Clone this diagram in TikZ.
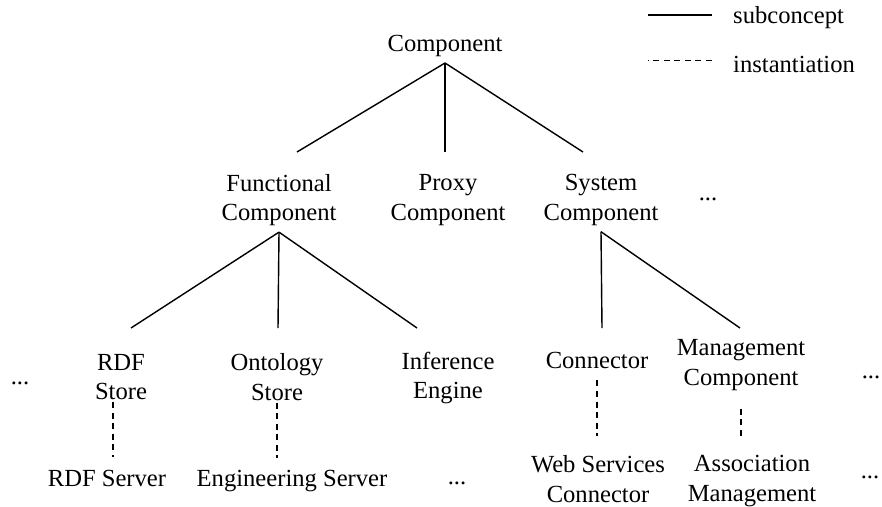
\documentclass[tikz,border=0pt]{standalone}
\usepackage{fontspec}
\setmainfont{Liberation Serif}
\usetikzlibrary{positioning}
\tikzset{
	concept/.style={align=center,font=\fontsize{14}{16.8}\selectfont},
	more/.style={font=\fontsize{14}{16.8}\selectfont},
	sub/.style={line width=0.8pt},
	inst/.style={line width=1.1pt,dash pattern=on 3.4pt off 2.6pt}
}

\begin{document}
\begin{tikzpicture}
	\useasboundingbox (0,0) rectangle (17.64,-10.12);
	% legend
	\node[more,anchor=base west] (lsub) at (14.54,-0.46) {subconcept};
	\node[more,anchor=base west] (linst) at (14.54,-1.44) {instantiation};
	\draw[sub] ([xshift=-0.3cm,yshift=0.04cm]lsub.west) -- ++(-1.28,0);
	\draw[inst] ([xshift=-0.3cm,yshift=0.07cm]linst.west) -- ++(-1.28,0);
	% concepts
	\node[concept] (comp) at (8.9,-0.92) {Component};
	\node[concept] (func) at (5.58,-4.0) {Functional\\Component};
	\node[concept] (proxy) at (8.96,-4.0) {Proxy\\Component};
	\node[concept] (sys) at (12.02,-4.0) {System\\Component};
	\node[more] (dotsmid) at (14.16,-3.98) {...};
	\node[concept] (rdfstore) at (2.42,-7.54) {RDF\\Store};
	\node[concept] (ontstore) at (5.54,-7.54) {Ontology\\Store};
	\node[concept] (infer) at (8.96,-7.56) {Inference\\Engine};
	\node[concept] (conn) at (11.94,-7.2) {Connector};
	\node[concept] (mgmt) at (14.82,-7.3) {Management\\Component};
	\node[more] (dotsl) at (0.4,-7.66) {...};
	\node[more] (dotsr) at (17.42,-7.54) {...};
	% instances
	\node[concept] (rdfsrv) at (2.14,-9.56) {RDF Server};
	\node[concept] (engsrv) at (5.84,-9.61) {Engineering Server};
	\node[more] (dotsb) at (9.14,-9.66) {...};
	\node[concept] (websrv) at (11.96,-9.58) {Web Services\\Connector};
	\node[concept] (assoc) at (15.04,-9.62) {Association\\Management};
	\node[more] (dotsbr) at (17.4,-9.54) {...};
	% line ends
	\node[coordinate] (func-in) at (5.94,-3.04) {};
	\node[coordinate] (proxy-in) at (8.9,-3.04) {};
	\node[coordinate] (sys-in) at (11.66,-3.04) {};
	\node[coordinate] (rdf-in) at (2.62,-6.56) {};
	\node[coordinate] (ont-in) at (5.56,-6.56) {};
	\node[coordinate] (inf-in) at (8.34,-6.56) {};
	\node[coordinate] (conn-in) at (12.04,-6.56) {};
	\node[coordinate] (mgmt-in) at (14.8,-6.56) {};
	% subconcepts
	\draw[sub] (comp.south) -- (func-in);
	\draw[sub] (comp.south) -- (proxy-in);
	\draw[sub] (comp.south) -- (sys-in);
	\draw[sub] (func.south) -- (rdf-in);
	\draw[sub] (func.south) -- (ont-in);
	\draw[sub] (func.south) -- (inf-in);
	\draw[sub] (sys.south) -- (conn-in);
	\draw[sub] (sys.south) -- (mgmt-in);
	% instantiations
	\draw[inst,shorten <=-2.3pt,shorten >=4pt] ([xshift=-0.16cm]rdfstore.south) -- ([xshift=-0.16cm]rdfstore.south |- rdfsrv.north);
	\draw[inst,shorten <=-2.3pt,shorten >=3.4pt] (ontstore.south) -- (ontstore.south |- engsrv.north);
	\draw[inst,shorten <=3.4pt,shorten >=7.4pt] (conn.south) -- (conn.south |- websrv.north);
	\draw[inst,shorten <=6.8pt,shorten >=7.4pt] (mgmt.south) -- (mgmt.south |- assoc.north);
\end{tikzpicture}
\end{document}
